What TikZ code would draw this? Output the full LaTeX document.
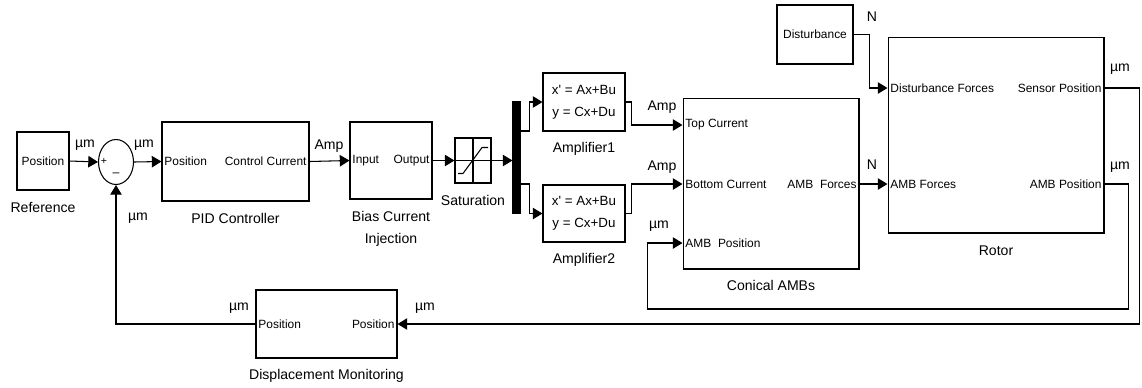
\documentclass[tikz,border=0pt]{standalone}
\usepackage{fontspec}
\setmainfont{Liberation Sans}
\usepackage{tikz}
\usetikzlibrary{arrows.meta,positioning,shapes.geometric}
\tikzset{block/.style={draw,line width=0.6pt,inner sep=0pt},
    port/.style={font=\fontsize{6.8}{8}\selectfont,inner sep=1.5pt},
    blocklabel/.style={font=\fontsize{8}{12.8}\selectfont,align=center,inner sep=0pt},
    sig/.style={font=\fontsize{8}{9.6}\selectfont,inner sep=0pt},
    wire/.style={line width=0.6pt,-{Triangle[length=5.5pt,width=6.5pt]}},
    thinline/.style={line width=0.6pt}}

\begin{document}
\begin{tikzpicture}[x=0.02cm,y=-0.02cm]
\useasboundingbox (0,0) rectangle (1142,387);
% blocks
\node[block,minimum width=1.04cm,minimum height=1.16cm] (ref) at (43,161) {};
\node[port] (refpos) at (ref) {Position};
\node[blocklabel,below=0.22cm of ref] (reflbl) {Reference};
\node[draw,ellipse,line width=0.6pt,minimum width=0.7cm,minimum height=0.9cm,inner sep=0pt] (sum) at (116,162) {};
\node[font=\fontsize{6}{7}\selectfont,inner sep=0pt] (splus) at (104,161) {+};
\node[font=\fontsize{7}{8}\selectfont,inner sep=0pt] (sminus) at (116,175) {--};
\node[block,minimum width=2.94cm,minimum height=1.58cm] (pid) at (235.5,161.5) {};
\node[port,anchor=west] (pidin) at (pid.west) {Position};
\node[port,anchor=east] (pidout) at (pid.east) {Control Current};
\node[blocklabel,below=0.22cm of pid] (pidlbl) {PID Controller};
\node[block,minimum width=1.64cm,minimum height=1.54cm] (bias) at (391,160.5) {};
\node[port,anchor=west] (biasin) at (bias.west) {Input};
\node[port,anchor=east] (biasout) at (bias.east) {Output};
\node[blocklabel,below=0.22cm of bias] (biaslbl) {Bias Current\\Injection};
\node[block,minimum width=0.72cm,minimum height=0.9cm] (sat) at (473,160.5) {};
\node[blocklabel,below=0.22cm of sat] (satlbl) {Saturation};
\node[block,fill=black,minimum width=0.14cm,minimum height=2.22cm] (demux) at (516.5,157.5) {};
\node[block,minimum width=1.64cm,minimum height=1.16cm,align=center,font=\fontsize{7.6}{12.5}\selectfont] (amp1) at (584,102) {x\textquotesingle{} = Ax+Bu\\y = Cx+Du};
\node[blocklabel,below=0.2cm of amp1] (amp1lbl) {Amplifier1};
\node[block,minimum width=1.64cm,minimum height=1.14cm,align=center,font=\fontsize{7.6}{12.5}\selectfont] (amp2) at (584,213.5) {x\textquotesingle{} = Ax+Bu\\y = Cx+Du};
\node[blocklabel,below=0.2cm of amp2] (amp2lbl) {Amplifier2};
\node[block,minimum width=3.52cm,minimum height=3.42cm] (con) at (771,183.5) {};
\node[port,anchor=west] (contop) at (con.west |- 0,125) {Top Current};
\node[port,anchor=west] (conbot) at (con.west |- 0,184) {Bottom Current};
\node[port,anchor=west] (conpos) at (con.west |- 0,243) {AMB\ \ Position};
\node[port,anchor=east] (conout) at (con.east |- 0,184) {AMB\ \ Forces};
\node[blocklabel,below=0.2cm of con] (conlbl) {Conical AMBs};
\node[block,minimum width=1.52cm,minimum height=1.18cm] (dist) at (815,34.5) {};
\node[port] (distlbl) at (dist) {Disturbance};
\node[block,minimum width=4.32cm,minimum height=3.92cm] (rotor) at (996,135) {};
\node[port,anchor=west] (rotdist) at (rotor.west |- 0,88) {Disturbance Forces};
\node[port,anchor=west] (rotamb) at (rotor.west |- 0,184) {AMB Forces};
\node[port,anchor=east] (rotsens) at (rotor.east |- 0,88) {Sensor Position};
\node[port,anchor=east] (rotpos) at (rotor.east |- 0,184) {AMB Position};
\node[blocklabel,below=0.24cm of rotor] (rotlbl) {Rotor};
\node[block,minimum width=2.82cm,minimum height=1.36cm] (disp) at (326.5,324) {};
\node[port,anchor=west] (dispout) at (disp.west) {Position};
\node[port,anchor=east] (dispin) at (disp.east) {Position};
\node[blocklabel,below=0.2cm of disp] (displbl) {Displacement Monitoring};
% saturation icon
\draw[thinline] (sat.north) -- (sat.south);
\draw[thinline] (sat.west) -- (sat.east);
\draw[thinline] ([shift={(-15,13)}]sat.center) -- ++(5,0) -- ++(19,-26) -- ++(6,0);
% connectors
\draw[wire] (ref.east) -- (sum.west);
\draw[wire] (sum.east) -- (pidin.west);
\draw[wire] (pidout.east) -- (biasin.west);
\draw[wire] (biasout.east) -- (sat.west);
\draw[wire] (sat.east) -- (sat.east -| demux.west);
\draw[wire] (demux.east |- 0,131) -| ([xshift=-0.26cm]amp1.west) -- (amp1.west);
\draw[wire] (demux.east |- 0,184) -| ([xshift=-0.26cm]amp2.west) -- (amp2.west);
\draw[wire] (amp1.east) -- ++(6,0) |- (contop.west);
\draw[wire] (amp2.east) -- ++(6,0) |- (conbot.west);
\draw[wire] (conout.east) -- (rotamb.west);
\draw[wire] (dist.east) -| ([xshift=-0.36cm]rotdist.west) -- (rotdist.west);
\draw[wire] (rotsens.east) -- ++(35,0) |- (dispin.east);
\draw[wire] (rotpos.east) -- ++(24,0) -- ++(0,125) -| ([xshift=-0.7cm]conpos.west) -- (conpos.west);
\draw[wire] (dispout.west) -| (sum.south);
% signal units
\node[sig] (u1) at (85,145) {µm};
\node[sig] (u2) at (144,145) {µm};
\node[sig] (u3) at (329,146) {Amp};
\node[sig] (u4) at (138,218) {µm};
\node[sig] (u5) at (662,107) {Amp};
\node[sig] (u6) at (662,167) {Amp};
\node[sig] (u7) at (659,226) {µm};
\node[sig] (u8) at (872,17) {N};
\node[sig] (u9) at (872,165) {N};
\node[sig] (u10) at (1120,69) {µm};
\node[sig] (u11) at (1120,167) {µm};
\node[sig] (u12) at (239,308) {µm};
\node[sig] (u13) at (425,308) {µm};
\end{tikzpicture}
\end{document}
